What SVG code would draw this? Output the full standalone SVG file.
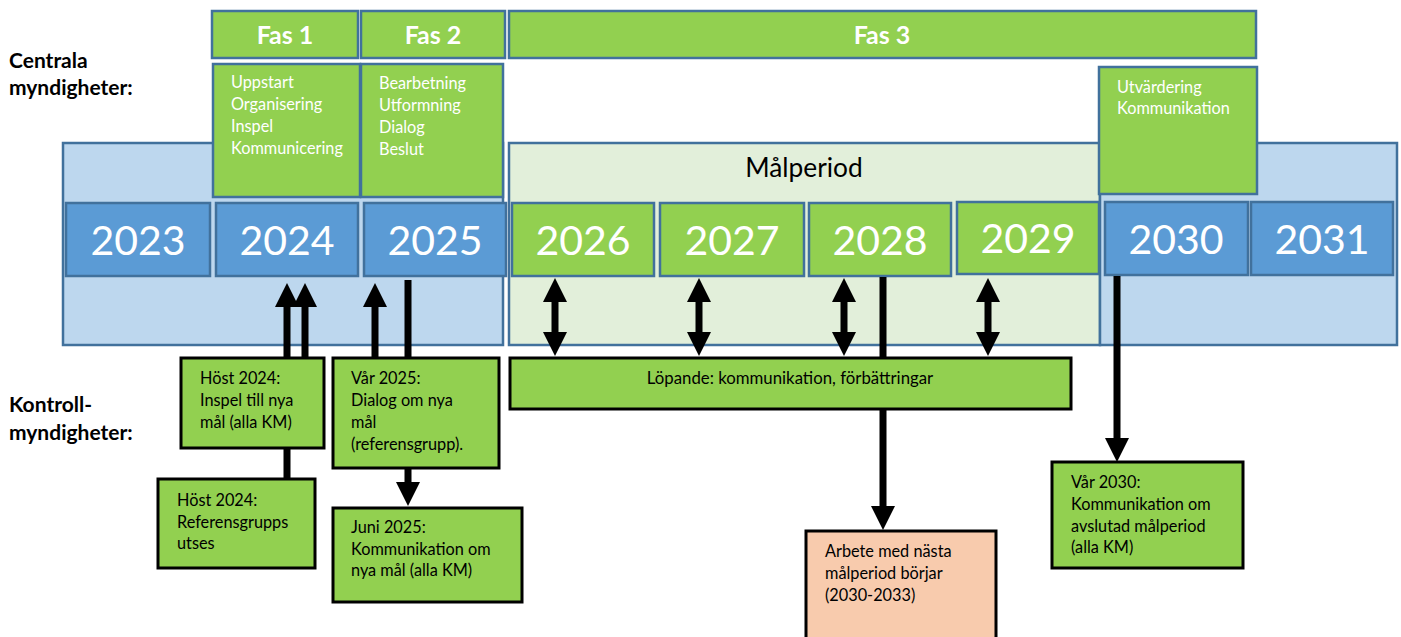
<svg xmlns="http://www.w3.org/2000/svg" width="1401" height="637" viewBox="0 0 1401 637">
<style>
text{font-family:Lato,"Open Sans","Liberation Sans",sans-serif}
.bg-blue{fill:#BDD7EE;stroke:#41719C;stroke-width:2.5}
.bg-green{fill:#E2EFDA;stroke:#41719C;stroke-width:2.5}
.yr-blue{fill:#5B9BD5;stroke:#41719C;stroke-width:2.5}
.yr-green{fill:#92D050;stroke:#41719C;stroke-width:2.5}
.phase{fill:#92D050;stroke:#41719C;stroke-width:2.5}
.km{fill:#92D050;stroke:#000;stroke-width:3}
.km-peach{fill:#F8CBAD;stroke:#000;stroke-width:3}
.yr{fill:#fff;font-size:41px;text-anchor:middle}
.fas{fill:#fff;font-size:25px;font-weight:bold;text-anchor:middle}
.det{fill:#fff;font-size:16.3px}
.lbl{fill:#000;font-size:16.3px}
.side{fill:#000;font-size:21px;font-weight:bold}
.conn{stroke:#000;stroke-width:7;fill:none}
</style>
<defs>
<marker id="ah" markerUnits="userSpaceOnUse" markerWidth="25" markerHeight="25" refX="0" refY="12" orient="auto-start-reverse" viewBox="0 0 25 24">
<path d="M0,0 L24,12 L0,24 Z" fill="#000"/>
</marker>
</defs>

<g id="side-labels">
<text class="side" x="9" y="68">Centrala</text>
<text class="side" x="9" y="95">myndigheter:</text>
<text class="side" x="9" y="412">Kontroll-</text>
<text class="side" x="9" y="440">myndigheter:</text>
</g>

<g id="background-before">
<rect class="bg-blue" x="63" y="143" width="440" height="202"/>
</g>
<g id="malperiod">
<rect class="bg-green" x="509" y="143" width="591" height="202"/>
<text x="804" y="177" font-size="26.3" fill="#000" text-anchor="middle">Målperiod</text>
</g>
<g id="background-after">
<rect class="bg-blue" x="1100" y="143" width="297" height="202"/>
</g>

<g id="fas1">
<rect class="phase" x="212" y="11" width="146" height="47"/>
<text class="fas" x="285" y="44">Fas 1</text>
</g>
<g id="fas2">
<rect class="phase" x="361" y="11" width="144" height="47"/>
<text class="fas" x="433" y="44">Fas 2</text>
</g>
<g id="fas3">
<rect class="phase" x="509" y="11" width="747" height="47"/>
<text class="fas" x="882" y="44">Fas 3</text>
</g>

<g id="fas1-tasks">
<rect class="phase" x="213" y="64" width="147" height="133"/>
<text class="det" x="231" y="88">Uppstart</text>
<text class="det" x="231" y="110">Organisering</text>
<text class="det" x="231" y="132">Inspel</text>
<text class="det" x="231" y="154">Kommunicering</text>
</g>
<g id="fas2-tasks">
<rect class="phase" x="361" y="64" width="142" height="133"/>
<text class="det" x="379" y="89">Bearbetning</text>
<text class="det" x="379" y="111">Utformning</text>
<text class="det" x="379" y="133">Dialog</text>
<text class="det" x="379" y="155">Beslut</text>
</g>
<g id="fas3-tasks">
<rect class="phase" x="1099" y="67" width="158" height="127"/>
<text class="det" x="1117" y="93">Utvärdering</text>
<text class="det" x="1117" y="114">Kommunikation</text>
</g>

<g id="y2023"><rect class="yr-blue" x="66" y="203" width="144" height="73"/><text class="yr" x="138" y="255">2023</text></g>
<g id="y2024"><rect class="yr-blue" x="216" y="203" width="142" height="73"/><text class="yr" x="287" y="255">2024</text></g>
<g id="y2025"><rect class="yr-blue" x="364" y="203" width="142" height="73"/><text class="yr" x="435" y="255">2025</text></g>
<g id="y2026"><rect class="yr-green" x="512" y="203" width="142" height="73"/><text class="yr" x="583" y="255">2026</text></g>
<g id="y2027"><rect class="yr-green" x="660" y="203" width="144" height="73"/><text class="yr" x="732" y="255">2027</text></g>
<g id="y2028"><rect class="yr-green" x="809" y="203" width="142" height="73"/><text class="yr" x="880" y="255">2028</text></g>
<g id="y2029"><rect class="yr-green" x="957" y="202" width="142" height="72"/><text class="yr" x="1028" y="253">2029</text></g>
<g id="y2030"><rect class="yr-blue" x="1105" y="202" width="143" height="73"/><text class="yr" x="1176" y="254">2030</text></g>
<g id="y2031"><rect class="yr-blue" x="1251" y="202" width="142" height="73"/><text class="yr" x="1322" y="254">2031</text></g>

<g id="connectors">
<line class="conn" x1="287" y1="479" x2="287" y2="307" marker-end="url(#ah)"/>
<line class="conn" x1="305" y1="358" x2="305" y2="307" marker-end="url(#ah)"/>
<line class="conn" x1="375" y1="358" x2="375" y2="307" marker-end="url(#ah)"/>
<line class="conn" x1="408" y1="280" x2="408" y2="482" marker-end="url(#ah)"/>
<line class="conn" x1="555" y1="302" x2="555" y2="332" marker-start="url(#ah)" marker-end="url(#ah)"/>
<line class="conn" x1="699" y1="302" x2="699" y2="332" marker-start="url(#ah)" marker-end="url(#ah)"/>
<line class="conn" x1="844" y1="302" x2="844" y2="332" marker-start="url(#ah)" marker-end="url(#ah)"/>
<line class="conn" x1="988" y1="302" x2="988" y2="332" marker-start="url(#ah)" marker-end="url(#ah)"/>
<line class="conn" x1="883" y1="277" x2="883" y2="506" marker-end="url(#ah)"/>
<line class="conn" x1="1117" y1="276" x2="1117" y2="438" marker-end="url(#ah)"/>
</g>

<g id="host2024-inspel">
<rect class="km" x="181" y="358" width="143" height="90"/>
<text class="lbl" x="200" y="384">Höst 2024:</text>
<text class="lbl" x="200" y="406">Inspel till nya</text>
<text class="lbl" x="200" y="428">mål (alla KM)</text>
</g>
<g id="host2024-ref">
<rect class="km" x="158" y="479" width="157" height="89"/>
<text class="lbl" x="177" y="506">Höst 2024:</text>
<text class="lbl" x="177" y="528">Referensgrupps</text>
<text class="lbl" x="177" y="549">utses</text>
</g>
<g id="var2025">
<rect class="km" x="333" y="358" width="166" height="110"/>
<text class="lbl" x="351" y="384">Vår 2025:</text>
<text class="lbl" x="351" y="406">Dialog om nya</text>
<text class="lbl" x="351" y="428">mål</text>
<text class="lbl" x="351" y="450">(referensgrupp).</text>
</g>
<g id="juni2025">
<rect class="km" x="333" y="508" width="189" height="94"/>
<text class="lbl" x="351" y="533">Juni 2025:</text>
<text class="lbl" x="351" y="555">Kommunikation om</text>
<text class="lbl" x="351" y="576">nya mål (alla KM)</text>
</g>
<g id="lopande">
<rect class="km" x="510" y="358" width="561" height="51"/>
<text x="790" y="384" font-size="16.8" fill="#000" text-anchor="middle">Löpande: kommunikation, förbättringar</text>
</g>
<g id="arbete">
<rect class="km-peach" x="806" y="531" width="190" height="120"/>
<text class="lbl" x="825" y="557">Arbete med nästa</text>
<text class="lbl" x="825" y="579">målperiod börjar</text>
<text class="lbl" x="825" y="601">(2030-2033)</text>
</g>
<g id="var2030">
<rect class="km" x="1052" y="462" width="191" height="106"/>
<text class="lbl" x="1071" y="488">Vår 2030:</text>
<text class="lbl" x="1071" y="510">Kommunikation om</text>
<text class="lbl" x="1071" y="532">avslutad målperiod</text>
<text class="lbl" x="1071" y="553">(alla KM)</text>
</g>
</svg>
